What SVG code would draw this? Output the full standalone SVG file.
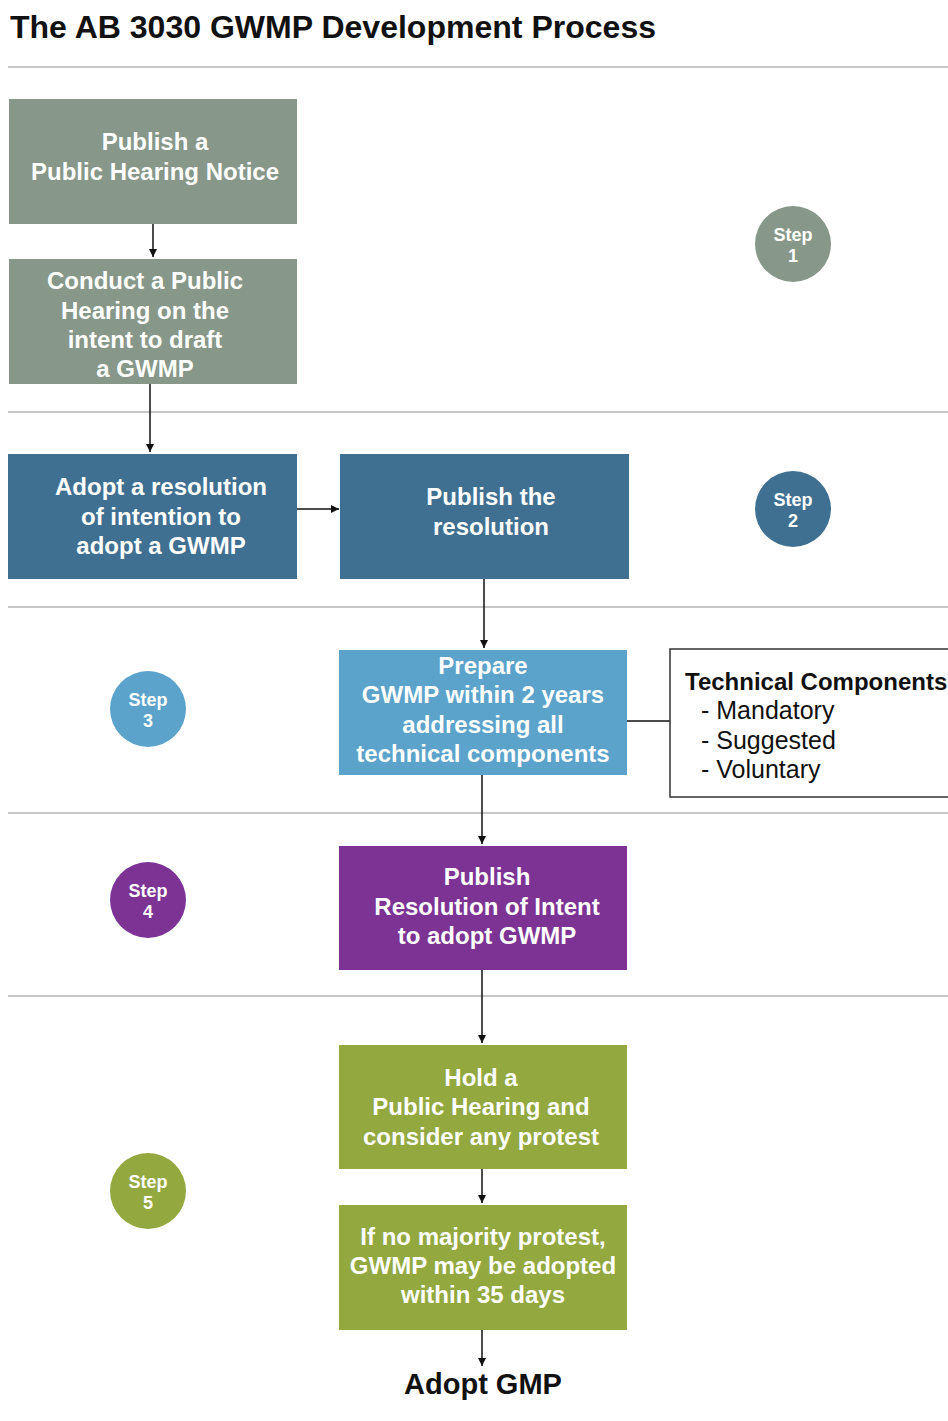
<svg xmlns="http://www.w3.org/2000/svg" width="948" height="1421" viewBox="0 0 948 1421">
<defs>
<style>
.bt{font-family:"Liberation Sans",Arial,sans-serif;font-weight:bold;font-size:24px;fill:#fff;text-anchor:middle}
.st{font-family:"Liberation Sans",Arial,sans-serif;font-weight:bold;font-size:18px;fill:#fff;text-anchor:middle}
.sep{stroke:#b4b4b4;stroke-width:1.5}
.con{stroke:#111;stroke-width:1.5;fill:none}
.gray{fill:#879789}
.blue{fill:#3f7092}
.lblue{fill:#5ba3cb}
.purple{fill:#7c3394}
.green{fill:#93a83f}
.tc{font-family:"Liberation Sans",Arial,sans-serif;font-size:25px;fill:#111}
</style>
<marker id="ah" viewBox="0 0 10 10" refX="10" refY="5" markerWidth="8" markerHeight="8" markerUnits="userSpaceOnUse" orient="auto">
<path d="M0,0 L10,5 L0,10 z" fill="#111"/>
</marker>
</defs>
<rect width="948" height="1421" fill="#fff"/>
<text x="10" y="38" font-family="Liberation Sans,Arial,sans-serif" font-weight="bold" font-size="31" fill="#111" textLength="646" lengthAdjust="spacingAndGlyphs">The AB 3030 GWMP Development Process</text>
<g id="separators">
<line class="sep" x1="8" y1="67" x2="948" y2="67"/>
<line class="sep" x1="8" y1="412" x2="948" y2="412"/>
<line class="sep" x1="8" y1="607" x2="948" y2="607"/>
<line class="sep" x1="8" y1="813" x2="948" y2="813"/>
<line class="sep" x1="8" y1="996" x2="948" y2="996"/>
</g>
<g id="connectors">
<line class="con" x1="153" y1="224" x2="153" y2="257" marker-end="url(#ah)"/>
<line class="con" x1="150" y1="384" x2="150" y2="452" marker-end="url(#ah)"/>
<line class="con" x1="297" y1="509" x2="339" y2="509" marker-end="url(#ah)"/>
<line class="con" x1="484" y1="579" x2="484" y2="648" marker-end="url(#ah)"/>
<line class="con" x1="627" y1="721" x2="670" y2="721"/>
<line class="con" x1="482" y1="775" x2="482" y2="844" marker-end="url(#ah)"/>
<line class="con" x1="482" y1="970" x2="482" y2="1043" marker-end="url(#ah)"/>
<line class="con" x1="482" y1="1169" x2="482" y2="1203" marker-end="url(#ah)"/>
<line class="con" x1="482" y1="1330" x2="482" y2="1366" marker-end="url(#ah)"/>
</g>
<g id="n1"><rect class="gray" x="9" y="99" width="288" height="125"/>
<text class="bt" x="155" y="150">Publish a</text><text class="bt" x="155" y="180">Public Hearing Notice</text></g>
<g id="n2"><rect class="gray" x="9" y="259" width="288" height="125"/>
<text class="bt" x="145" y="289">Conduct a Public</text><text class="bt" x="145" y="319">Hearing on the</text><text class="bt" x="145" y="348">intent to draft</text><text class="bt" x="145" y="377">a GWMP</text></g>
<g id="step1"><circle cx="793" cy="244" r="38" fill="#879789"/><text class="st" x="793" y="241">Step</text><text class="st" x="793" y="262">1</text></g>
<g id="n3"><rect class="blue" x="8" y="454" width="289" height="125"/>
<text class="bt" x="161" y="495">Adopt a resolution</text><text class="bt" x="161" y="525">of intention to</text><text class="bt" x="161" y="554">adopt a GWMP</text></g>
<g id="n4"><rect class="blue" x="340" y="454" width="289" height="125"/>
<text class="bt" x="491" y="505">Publish the</text><text class="bt" x="491" y="535">resolution</text></g>
<g id="step2"><circle cx="793" cy="509" r="38" fill="#3f7092"/><text class="st" x="793" y="506">Step</text><text class="st" x="793" y="527">2</text></g>
<g id="n5"><rect class="lblue" x="339" y="650" width="288" height="125"/>
<text class="bt" x="483" y="674">Prepare</text><text class="bt" x="483" y="703">GWMP within 2 years</text><text class="bt" x="483" y="733">addressing all</text><text class="bt" x="483" y="762">technical components</text></g>
<g id="tech"><rect x="670" y="649" width="290" height="148" fill="#fff" stroke="#333" stroke-width="1.5"/>
<text x="685" y="690" font-family="Liberation Sans,Arial,sans-serif" font-weight="bold" font-size="24" fill="#111">Technical Components</text>
<text class="tc" x="701" y="719">- Mandatory</text>
<text class="tc" x="701" y="749">- Suggested</text>
<text class="tc" x="701" y="778">- Voluntary</text></g>
<g id="step3"><circle cx="148" cy="709" r="38" fill="#5ba3cb"/><text class="st" x="148" y="706">Step</text><text class="st" x="148" y="727">3</text></g>
<g id="n6"><rect class="purple" x="339" y="846" width="288" height="124"/>
<text class="bt" x="487" y="885">Publish</text><text class="bt" x="487" y="915">Resolution of Intent</text><text class="bt" x="487" y="944">to adopt GWMP</text></g>
<g id="step4"><circle cx="148" cy="900" r="38" fill="#7c3394"/><text class="st" x="148" y="897">Step</text><text class="st" x="148" y="918">4</text></g>
<g id="n7"><rect class="green" x="339" y="1045" width="288" height="124"/>
<text class="bt" x="481" y="1086">Hold a</text><text class="bt" x="481" y="1115">Public Hearing and</text><text class="bt" x="481" y="1145">consider any protest</text></g>
<g id="n8"><rect class="green" x="339" y="1205" width="288" height="125"/>
<text class="bt" x="483" y="1245">If no majority protest,</text><text class="bt" x="483" y="1274">GWMP may be adopted</text><text class="bt" x="483" y="1303">within 35 days</text></g>
<g id="step5"><circle cx="148" cy="1191" r="38" fill="#93a83f"/><text class="st" x="148" y="1188">Step</text><text class="st" x="148" y="1209">5</text></g>
<g id="adopt"><text x="483" y="1394" font-family="Liberation Sans,Arial,sans-serif" font-weight="bold" font-size="29" fill="#111" text-anchor="middle">Adopt GMP</text></g>
</svg>
